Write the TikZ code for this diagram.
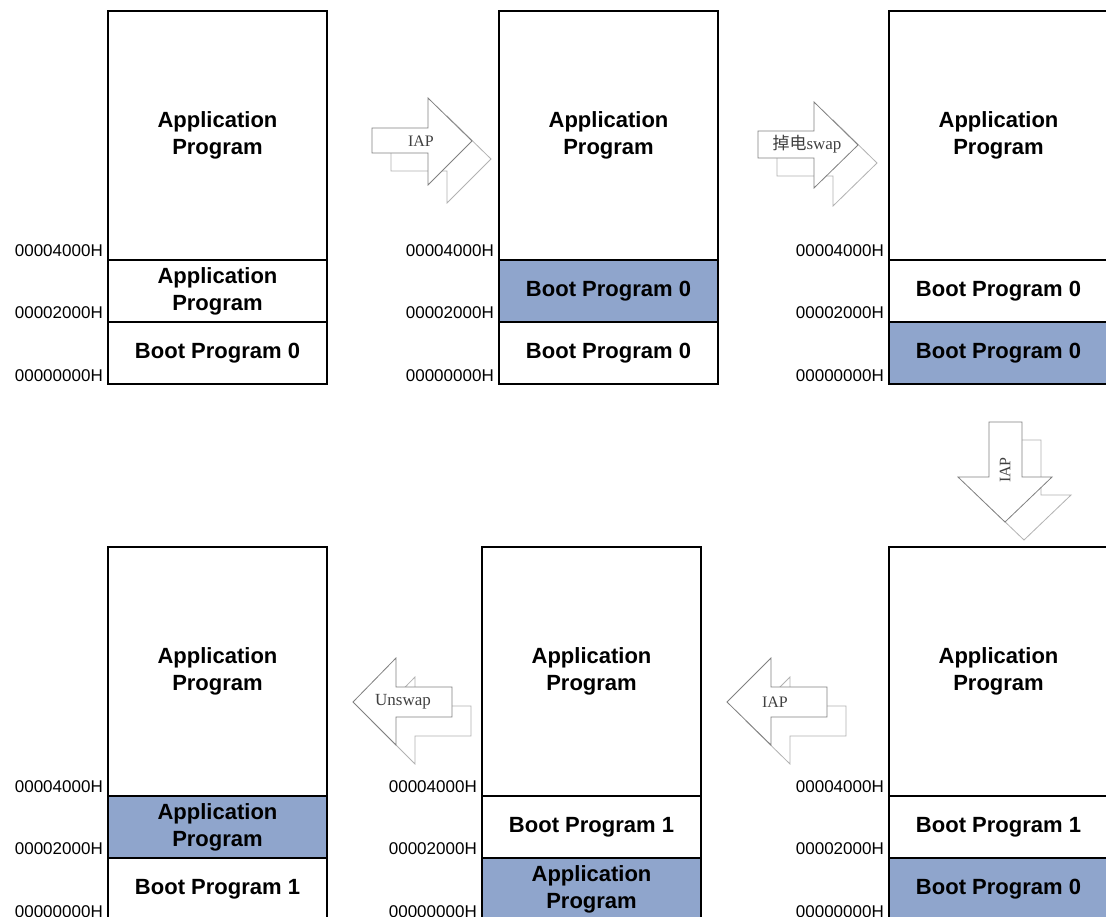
\documentclass[tikz,border=0pt]{standalone}
\usepackage{fontspec}
\setmainfont{Liberation Sans}
\newfontfamily\lserif{Liberation Serif}
\newfontfamily\cjk{Noto Sans CJK SC}
\definecolor{memblue}{RGB}{143,165,204}
\begin{document}
\begin{tikzpicture}[x=1pt,y=-1pt,
  sec/.style={draw=black, line width=2.5pt, minimum width=219pt, inner sep=0pt, outer sep=0pt,
    align=center, font=\bfseries\fontsize{22}{27}\selectfont, anchor=north west},
  big/.style={sec, minimum height=249pt},
  small/.style={sec, minimum height=62pt},
  hl/.style={fill=memblue},
  addr/.style={anchor=east, font=\fontsize{17}{17}\selectfont, inner sep=0pt},
  arrmain/.style={draw=black!50, fill=white, line width=0.8pt, line join=miter},
  arrshadow/.style={draw=black!30, fill=white, line width=0.8pt},
  arrtext/.style={font=\lserif\fontsize{16}{16}\selectfont, text=black!75, inner sep=0pt}
]
\clip (0,0) rectangle (1106,916);
\fill[white] (0,0) rectangle (1106,916);

% ---------- arrow shapes ----------
\def\ArrA{(372,128) -- (428,128) -- (428,98) -- (472,141) -- (428,185) -- (428,153) -- (372,153) -- cycle}
\def\ArrB{(758,131) -- (814,131) -- (814,102) -- (858,145) -- (814,188) -- (814,158) -- (758,158) -- cycle}
\def\ArrC{(989,422) -- (1022,422) -- (1022,477) -- (1052,477) -- (1005,522) -- (958,477) -- (989,477) -- cycle}
\def\ArrD{(353,702) -- (396,658) -- (396,687) -- (452,687) -- (452,717) -- (396,717) -- (396,745) -- cycle}
\def\ArrE{(727,702) -- (771,658) -- (771,687) -- (827,687) -- (827,717) -- (771,717) -- (771,745) -- cycle}

\draw[arrshadow, shift={(19,18)}] \ArrA;
\draw[arrmain] \ArrA;
\node[arrtext] (tA) at (421,141) {IAP};

\draw[arrshadow, shift={(19,18)}] \ArrB;
\draw[arrmain] \ArrB;
\node[arrtext, font=\lserif\fontsize{17}{17}\selectfont] (tB) at (807,144) {{\cjk 掉电}swap};

\draw[arrshadow, shift={(19,18)}] \ArrC;
\draw[arrmain] \ArrC;
\node[arrtext, rotate=90] (tC) at (1005,470) {IAP};

\draw[arrshadow, shift={(19,19)}] \ArrD;
\draw[arrmain] \ArrD;
\node[arrtext, font=\lserif\fontsize{17}{17}\selectfont] (tD) at (403,702) {Unswap};

\draw[arrshadow, shift={(19,19)}] \ArrE;
\draw[arrmain] \ArrE;
\node[arrtext] (tE) at (775,702) {IAP};

% ---------- top row ----------
% box 1
\node[big] (a1) at (108,11) {Application\\Program};
\node[small] (a2) at (108,260) {Application\\Program};
\node[small] (a3) at (108,322) {Boot Program 0};
% box 2
\node[big] (b1) at (499,11) {Application\\Program};
\node[small, hl] (b2) at (499,260) {Boot Program 0};
\node[small] (b3) at (499,322) {Boot Program 0};
% box 3
\node[big] (c1) at (889,11) {Application\\Program};
\node[small] (c2) at (889,260) {Boot Program 0};
\node[small, hl] (c3) at (889,322) {Boot Program 0};

% ---------- bottom row ----------
% box 4
\node[big] (d1) at (108,547) {Application\\Program};
\node[small, hl] (d2) at (108,796) {Application\\Program};
\node[small] (d3) at (108,858) {Boot Program 1};
% box 5
\node[big] (e1) at (482,547) {Application\\Program};
\node[small] (e2) at (482,796) {Boot Program 1};
\node[small, hl] (e3) at (482,858) {Application\\Program};
% box 6
\node[big] (f1) at (889,547) {Application\\Program};
\node[small] (f2) at (889,796) {Boot Program 1};
\node[small, hl] (f3) at (889,858) {Boot Program 0};

% ---------- address labels ----------
\foreach \b in {a,b,c,d,e,f}{
  \node[addr] (\b l4) at ([xshift=-5pt,yshift=9pt]\b1.south west) {00004000H};
  \node[addr] (\b l2) at ([xshift=-5pt,yshift=9pt]\b2.south west) {00002000H};
  \node[addr] (\b l0) at ([xshift=-5pt,yshift=8pt]\b3.south west) {00000000H};
}
\end{tikzpicture}
\end{document}
